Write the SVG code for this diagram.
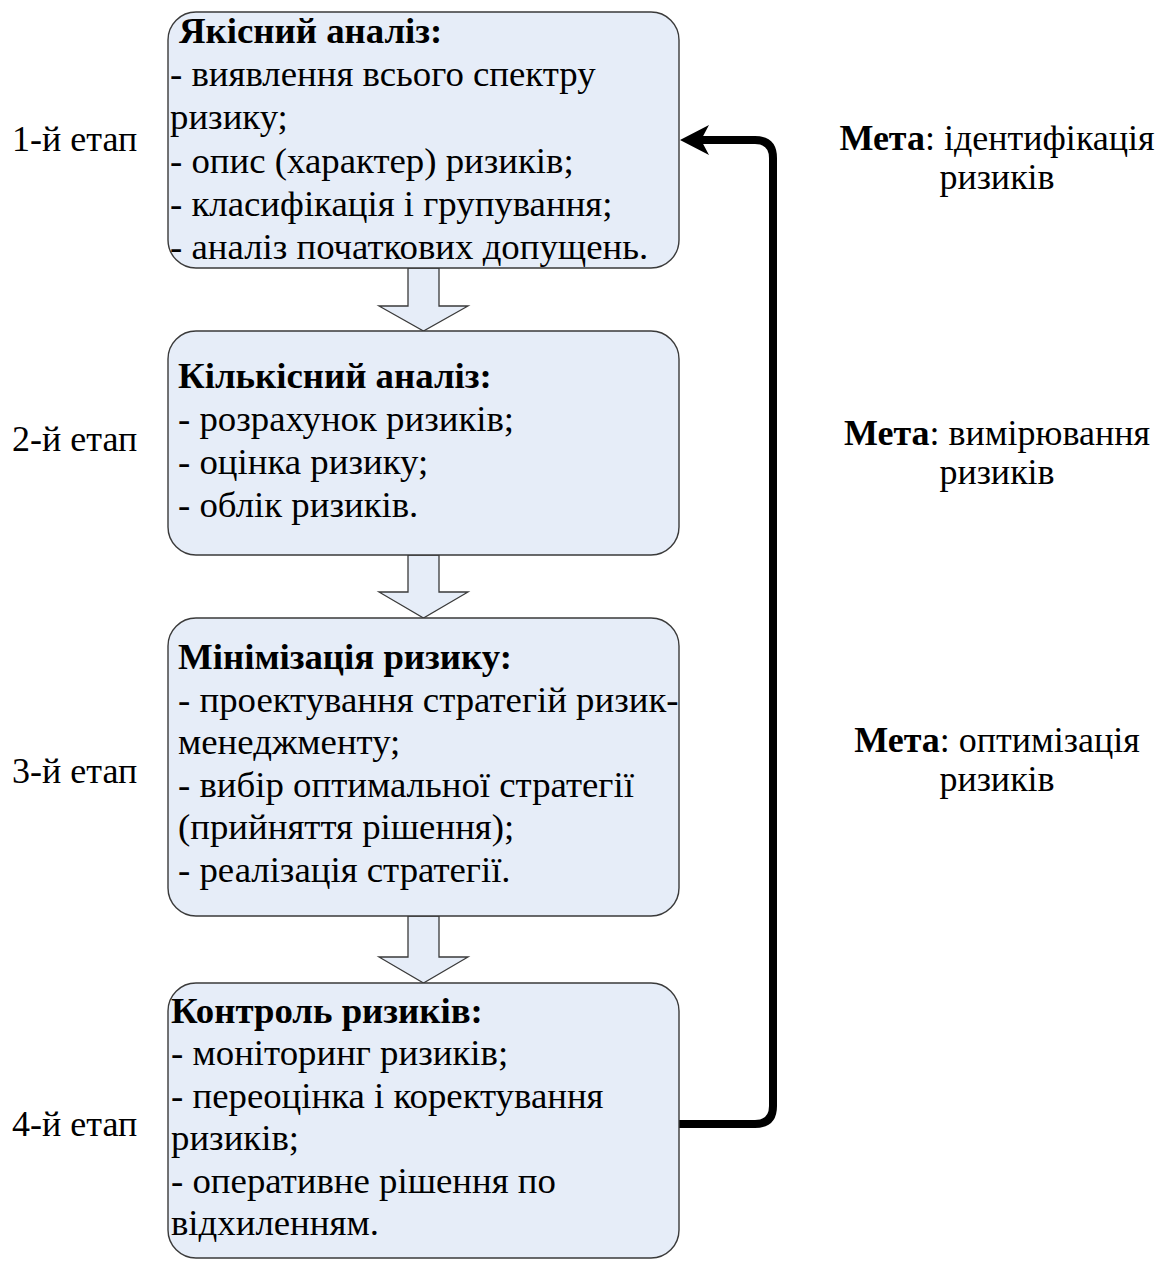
<svg xmlns="http://www.w3.org/2000/svg" width="1158" height="1264" viewBox="0 0 1158 1264">
<defs>
<style>
.box{fill:#e6edf8;stroke:#3a3a3a;stroke-width:1.4}
.barrow{fill:#e6edf8;stroke:#3a3a3a;stroke-width:1.3;stroke-linejoin:miter}
text{font-family:"Liberation Serif","DejaVu Serif","Times New Roman",serif;font-size:36px;fill:#000}
.n text{font-size:36.8px}
.b{font-weight:bold}
.c{text-anchor:middle}
.conn{fill:none;stroke:#000;stroke-width:8;stroke-linecap:round;stroke-linejoin:round}
</style>
</defs>
<rect width="1158" height="1264" fill="#fff"/>

<g id="stage-labels">
<text x="12" y="151">1-й етап</text>
<text x="12" y="451">2-й етап</text>
<text x="12" y="783">3-й етап</text>
<text x="12" y="1136">4-й етап</text>
</g>

<g id="goal-labels">
<text class="c" x="997" y="150"><tspan class="b">Мета</tspan>: ідентифікація</text>
<text class="c" x="997" y="189">ризиків</text>
<text class="c" x="997" y="445"><tspan class="b">Мета</tspan>: вимірювання</text>
<text class="c" x="997" y="484">ризиків</text>
<text class="c" x="997" y="752"><tspan class="b">Мета</tspan>: оптимізація</text>
<text class="c" x="997" y="791">ризиків</text>
</g>

<g id="connectors">
<path class="barrow" d="M408,268 L439,268 L439,306 L468,306 L423.5,331 L379,306 L408,306 Z"/>
<path class="barrow" d="M408,555 L439,555 L439,592 L468,592 L423.5,618 L379,592 L408,592 Z"/>
<path class="barrow" d="M408,916 L439,916 L439,957 L468,957 L423.5,983 L379,957 L408,957 Z"/>
<path class="conn" d="M676,1124 L755,1124 Q773,1124 773,1106 L773,158 Q773,140 755,140 L702,140"/>
<path d="M680,140 L709,125 L701,140 L709,155 Z" fill="#000"/>
</g>

<g id="node-1" class="n">
<rect class="box" x="168" y="12" width="511" height="256" rx="28"/>
<text class="b" x="179" y="43">Якісний аналіз:</text>
<text x="170" y="86">- виявлення всього спектру</text>
<text x="170" y="129">ризику;</text>
<text x="170" y="173">- опис (характер) ризиків;</text>
<text x="170" y="216">- класифікація і групування;</text>
<text x="170" y="259">- аналіз початкових допущень.</text>
</g>

<g id="node-2" class="n">
<rect class="box" x="168" y="331" width="511" height="224" rx="28"/>
<text class="b" x="178" y="388">Кількісний аналіз:</text>
<text x="178" y="431">- розрахунок ризиків;</text>
<text x="178" y="474">- оцінка ризику;</text>
<text x="178" y="517">- облік ризиків.</text>
</g>

<g id="node-3" class="n">
<rect class="box" x="168" y="618" width="511" height="298" rx="28"/>
<text class="b" x="178" y="669">Мінімізація ризику:</text>
<text x="178" y="711.6">- проектування стратегій ризик-</text>
<text x="178" y="754.2">менеджменту;</text>
<text x="178" y="796.8">- вибір оптимальної стратегії</text>
<text x="178" y="839.4">(прийняття рішення);</text>
<text x="178" y="882">- реалізація стратегії.</text>
</g>

<g id="node-4" class="n">
<rect class="box" x="168" y="983" width="511" height="275" rx="28"/>
<text class="b" x="171" y="1023">Контроль ризиків:</text>
<text x="171" y="1065.4">- моніторинг ризиків;</text>
<text x="171" y="1107.8">- переоцінка і коректування</text>
<text x="171" y="1150.2">ризиків;</text>
<text x="171" y="1192.6">- оперативне рішення по</text>
<text x="171" y="1235">відхиленням.</text>
</g>
</svg>
